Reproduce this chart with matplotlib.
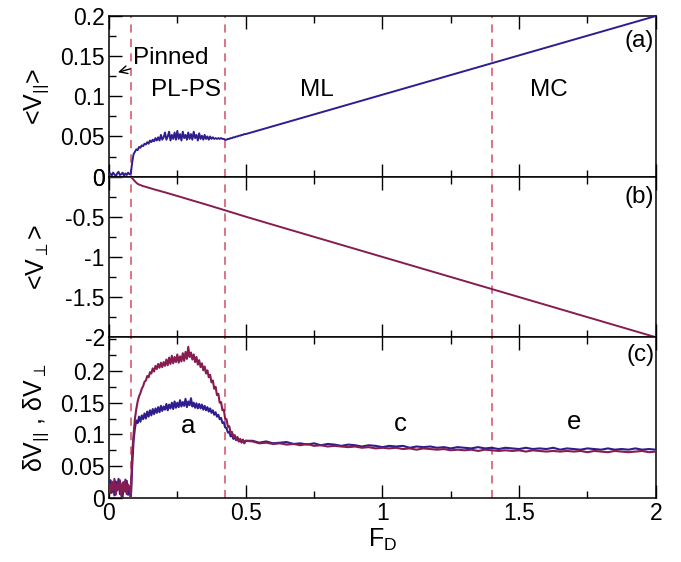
import numpy as np
import matplotlib
matplotlib.use("Agg")
import matplotlib.pyplot as plt
from matplotlib.ticker import MultipleLocator, FixedLocator, FuncFormatter

plt.rcParams['font.family'] = ['Liberation Sans', 'DejaVu Sans']
plt.rcParams['axes.unicode_minus'] = False
plt.rcParams['mathtext.fontset'] = 'custom'
plt.rcParams['mathtext.rm'] = 'Liberation Sans'
plt.rcParams['mathtext.it'] = 'Liberation Sans'

# ---------------- data ----------------
# low-drive segment: F_D = 0 ... 0.5 in steps of 0.005
v_par_low = [0.002, 0.004, 0.001, 0.005, 0.003, 0.000, 0.004, 0.006, 0.002, 0.003,
             0.005, 0.001, 0.004, 0.002, 0.005, 0.003,
             0.004, 0.018, 0.028, 0.031, 0.034, 0.033, 0.037, 0.036, 0.039, 0.038,
             0.041, 0.040, 0.043, 0.041, 0.045, 0.043, 0.046, 0.044, 0.048, 0.045,
             0.049, 0.045, 0.052, 0.046, 0.049, 0.055, 0.046, 0.050, 0.056, 0.045,
             0.052, 0.047, 0.055, 0.046, 0.057, 0.047, 0.053, 0.045, 0.056, 0.048,
             0.052, 0.046, 0.055, 0.047, 0.053, 0.046, 0.056, 0.048, 0.052, 0.045,
             0.054, 0.047, 0.051, 0.046, 0.052, 0.047, 0.050, 0.046, 0.050, 0.047,
             0.049, 0.047, 0.048, 0.047, 0.048, 0.047, 0.048, 0.047, 0.047, 0.046,
             0.046, 0.047, 0.047, 0.048, 0.048, 0.049, 0.049, 0.050, 0.050, 0.051,
             0.051, 0.052, 0.052, 0.053, 0.053]
v_perp_low = [0.0] * 17 + [
    -0.020, -0.040, -0.058, -0.075, -0.090, -0.098, -0.105, -0.112, -0.118, -0.122,
    -0.128, -0.132, -0.138, -0.142, -0.148, -0.152, -0.158, -0.162, -0.167, -0.172,
    -0.176, -0.182, -0.186, -0.191, -0.196, -0.200, -0.206, -0.210, -0.216, -0.220,
    -0.226, -0.230, -0.236, -0.240, -0.246, -0.250, -0.256, -0.261, -0.266, -0.270,
    -0.276, -0.281, -0.286, -0.291, -0.296, -0.301, -0.306, -0.311, -0.316, -0.321,
    -0.326, -0.331, -0.336, -0.342, -0.347, -0.352, -0.357, -0.362, -0.367, -0.373,
    -0.378, -0.383, -0.388, -0.393, -0.398, -0.404, -0.409, -0.414, -0.419, -0.425,
    -0.430, -0.435, -0.440, -0.446, -0.451, -0.456, -0.461, -0.467, -0.472, -0.477,
    -0.482, -0.488, -0.493, -0.498]
dv_par_low = [0.015, 0.028, 0.008, 0.022, 0.004, 0.026, 0.012, 0.030, 0.006, 0.020,
              0.002, 0.025, 0.010, 0.027, 0.005, 0.018, 0.001,
              0.050, 0.090, 0.110, 0.122, 0.118, 0.128, 0.120, 0.130, 0.124, 0.133,
              0.125, 0.136, 0.128, 0.138, 0.130, 0.140, 0.132, 0.141, 0.134, 0.143,
              0.135, 0.145, 0.137, 0.144, 0.139, 0.148, 0.138, 0.147, 0.141, 0.150,
              0.140, 0.152, 0.142, 0.150, 0.143, 0.154, 0.144, 0.151, 0.145, 0.156,
              0.143, 0.152, 0.146, 0.157, 0.144, 0.150, 0.142, 0.149, 0.141, 0.148,
              0.141, 0.147, 0.139, 0.145, 0.138, 0.143, 0.136, 0.141, 0.134, 0.138,
              0.131, 0.135, 0.128, 0.131, 0.124, 0.126, 0.118, 0.119, 0.111, 0.110,
              0.103, 0.104, 0.097, 0.099, 0.093, 0.096, 0.091, 0.094, 0.089, 0.092,
              0.088, 0.091, 0.087, 0.090]
dv_perp_low = [0.020, 0.008, 0.026, 0.012, 0.030, 0.005, 0.022, 0.014, 0.028, 0.003,
               0.024, 0.010, 0.029, 0.006, 0.021, 0.015, 0.000,
               0.070, 0.100, 0.125, 0.140, 0.152, 0.160, 0.165, 0.172, 0.176, 0.183,
               0.185, 0.192, 0.190, 0.198, 0.196, 0.204, 0.199, 0.208, 0.203, 0.211,
               0.205, 0.213, 0.206, 0.214, 0.208, 0.218, 0.209, 0.221, 0.211, 0.224,
               0.212, 0.222, 0.214, 0.226, 0.213, 0.223, 0.215, 0.228, 0.216, 0.230,
               0.219, 0.238, 0.222, 0.229, 0.218, 0.226, 0.214, 0.222, 0.210, 0.217,
               0.206, 0.212, 0.201, 0.207, 0.196, 0.201, 0.190, 0.194, 0.182, 0.185,
               0.172, 0.175, 0.162, 0.164, 0.150, 0.151, 0.138, 0.139, 0.125, 0.124,
               0.112, 0.113, 0.103, 0.104, 0.096, 0.099, 0.092, 0.096, 0.089, 0.093,
               0.087, 0.092, 0.086, 0.090]

# high-drive segment for averages: F_D = 0.55 ... 2.0 in steps of 0.05
v_par_high = [0.0579, 0.0628, 0.0677, 0.0726, 0.0775, 0.0824, 0.0873, 0.0922, 0.0971, 0.1020,
              0.1069, 0.1118, 0.1167, 0.1216, 0.1265, 0.1314, 0.1363, 0.1412, 0.1461, 0.1510,
              0.1559, 0.1608, 0.1657, 0.1706, 0.1755, 0.1804, 0.1853, 0.1902, 0.1951, 0.2000]
v_perp_high = [-0.549, -0.599, -0.649, -0.699, -0.749, -0.799, -0.849, -0.899, -0.949, -0.999,
               -1.049, -1.099, -1.149, -1.199, -1.249, -1.299, -1.349, -1.399, -1.449, -1.499,
               -1.549, -1.599, -1.649, -1.699, -1.749, -1.799, -1.849, -1.899, -1.949, -1.999]

# high-drive segment for fluctuations: F_D = 0.525 ... 2.0 in steps of 0.025
dv_par_high = [0.090, 0.087, 0.089, 0.086, 0.087, 0.088, 0.085, 0.086, 0.084, 0.086,
               0.083, 0.085, 0.084, 0.082, 0.084, 0.083, 0.081, 0.083, 0.082, 0.080,
               0.082, 0.081, 0.082, 0.079, 0.081, 0.080, 0.081, 0.079, 0.080, 0.078,
               0.080, 0.079, 0.078, 0.080, 0.078, 0.079, 0.077, 0.079, 0.078, 0.077,
               0.079, 0.077, 0.078, 0.077, 0.079, 0.076, 0.078, 0.077, 0.076, 0.078,
               0.077, 0.076, 0.078, 0.076, 0.077, 0.076, 0.078, 0.076, 0.077, 0.076]
dv_perp_high = [0.089, 0.086, 0.087, 0.085, 0.086, 0.084, 0.085, 0.083, 0.085, 0.082,
                0.083, 0.081, 0.082, 0.081, 0.080, 0.081, 0.079, 0.080, 0.078, 0.079,
                0.078, 0.079, 0.077, 0.078, 0.076, 0.078, 0.077, 0.076, 0.077, 0.075,
                0.076, 0.075, 0.076, 0.074, 0.076, 0.075, 0.074, 0.075, 0.074, 0.075,
                0.073, 0.075, 0.074, 0.073, 0.074, 0.073, 0.074, 0.073, 0.074, 0.072,
                0.074, 0.073, 0.072, 0.074, 0.073, 0.072, 0.073, 0.074, 0.072, 0.073]

phase_bounds = [0.08, 0.425, 1.4]
phase_labels = ["PL-PS", "ML", "MC"]
phase_label_x = [0.28, 0.76, 1.61]
curve_labels = ["a", "c", "e"]
curve_label_x = [0.29, 1.065, 1.70]
curve_label_y = [0.114, 0.117, 0.12]
fluct_yticks = [0, 0.05, 0.1, 0.15, 0.2]

F_low = np.round(np.arange(len(v_par_low)) * 0.005, 4)
F_high = np.round(0.55 + np.arange(len(v_par_high)) * 0.05, 4)
F_high2 = np.round(0.525 + np.arange(len(dv_par_high)) * 0.025, 4)

F_avg = np.concatenate([F_low, F_high])
F_fl = np.concatenate([F_low, F_high2])
v_par = np.concatenate([v_par_low, v_par_high])
v_perp = np.concatenate([v_perp_low, v_perp_high])
dv_par = np.concatenate([dv_par_low, dv_par_high])
dv_perp = np.concatenate([dv_perp_low, dv_perp_high])

BLUE = '#2e1d8f'
RED = '#861c50'
DASH = '#d9697c'

TICK_FS = 16.5
TEXT_FS = 17.5
LABEL_FS = 18

# ---------------- figure ----------------
fig = plt.figure(figsize=(6.81, 5.62), dpi=100)
gs = fig.add_gridspec(3, 1, left=0.160, right=0.963, top=0.9715, bottom=0.114, hspace=0)
axes = [fig.add_subplot(gs[i]) for i in range(3)]

fmt = FuncFormatter(lambda v, p: ('%g' % round(v, 4)))

for ax in axes:
    ax.set_xlim(0, 2)
    ax.xaxis.set_major_locator(MultipleLocator(0.5))
    ax.xaxis.set_minor_locator(MultipleLocator(0.25))
    ax.tick_params(axis='both', which='both', direction='in', top=True, right=False,
                   labelsize=TICK_FS)
    ax.tick_params(which='major', length=9.5, width=1.0, pad=3)
    ax.tick_params(which='minor', length=5, width=1.0)
    ax.yaxis.set_major_formatter(fmt)
    for s in ax.spines.values():
        s.set_linewidth(1.1)
    for b in phase_bounds:
        ax.axvline(b, color=DASH, lw=1.3, ls=(0, (4.5, 3.5)), zorder=1)

# (a)
ax = axes[0]
ax.plot(F_avg, v_par, color=BLUE, lw=1.4, zorder=3)
ax.set_ylim(0, 0.2)
ax.yaxis.set_major_locator(MultipleLocator(0.05))
ax.yaxis.set_minor_locator(MultipleLocator(0.025))
ax.tick_params(labelbottom=False)
ax.set_ylabel('<V$_{||}$>', fontsize=LABEL_FS)
ax.text(0.997, 0.169, '(a)', ha='right', va='center', fontsize=TEXT_FS,
        transform=ax.get_yaxis_transform())
for lab, x in zip(phase_labels, phase_label_x):
    ax.text(x, 0.108, lab, ha='center', va='center', fontsize=TEXT_FS)
ax.annotate('Pinned', xy=(0.033, 0.13), xytext=(0.088, 0.148), fontsize=TEXT_FS,
            ha='left', va='center',
            arrowprops=dict(arrowstyle='->', color='black', lw=1.0,
                            shrinkA=0, shrinkB=0, mutation_scale=14))

# (b)
ax = axes[1]
ax.plot(F_avg, v_perp, color=RED, lw=1.4, zorder=3)
ax.set_ylim(-2, 0)
ax.yaxis.set_major_locator(MultipleLocator(0.5))
ax.yaxis.set_minor_locator(MultipleLocator(0.25))
ax.tick_params(labelbottom=False)
ax.set_ylabel('<V$_{\\perp}$>', fontsize=LABEL_FS)
ax.text(0.997, -0.25, '(b)', ha='right', va='center', fontsize=TEXT_FS,
        transform=ax.get_yaxis_transform())

# (c)
ax = axes[2]
ax.plot(F_fl, dv_par, color=BLUE, lw=1.5, zorder=3)
ax.plot(F_fl, dv_perp, color=RED, lw=1.5, zorder=4)
ax.set_ylim(0, 0.253)
ax.yaxis.set_major_locator(FixedLocator(fluct_yticks))
ax.yaxis.set_minor_locator(MultipleLocator(0.025))
ax.set_ylabel('δV$_{||}$ , δV$_{\\perp}$', fontsize=LABEL_FS)
ax.set_xlabel('F$_D$', fontsize=LABEL_FS, labelpad=1)
ax.xaxis.set_major_formatter(fmt)
ax.text(0.997, 0.2255, '(c)', ha='right', va='center', fontsize=TEXT_FS,
        transform=ax.get_yaxis_transform())
for lab, x, y in zip(curve_labels, curve_label_x, curve_label_y):
    ax.text(x, y, lab, ha='center', va='center', fontsize=TEXT_FS + 1)

for ax in axes:
    ax.yaxis.set_label_coords(-0.106, 0.5)

fig.savefig('out.png', dpi=100)
